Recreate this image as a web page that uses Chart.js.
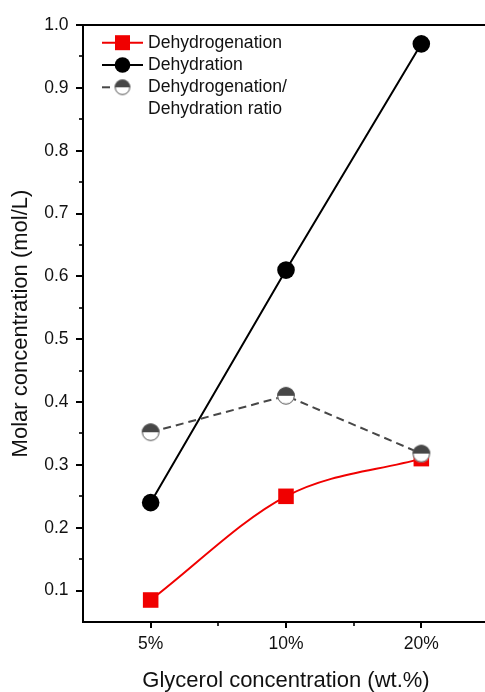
<!DOCTYPE html>
<html>
<head>
<meta charset="utf-8">
<title>Molar concentration vs glycerol concentration</title>
<script src="https://cdn.jsdelivr.net/npm/chart.js@4.4.1/dist/chart.umd.min.js"></script>
<style>
  html, body { margin: 0; padding: 0; background: #ffffff; }
  #wrap { width: 485px; height: 692px; overflow: hidden; position: relative; }
  #box { position: absolute; left: 0; top: 0; width: 500px; height: 700px; }
</style>
</head>
<body>
<div id="wrap"><div id="box"><canvas id="chart" width="500" height="700"></canvas></div></div>
<script>
// Categories and measured series
const categories = ['5%', '10%', '20%'];
const dehydrogenation = [0.085, 0.25, 0.31];
const dehydration = [0.24, 0.61, 0.97];
const ratio = [0.352, 0.41, 0.318];

// Axis range and labelled ticks
const yMin = 0.05;
const yMax = 1.0;
const yTickValues = [0.1, 0.2, 0.3, 0.4, 0.5, 0.6, 0.7, 0.8, 0.9, 1.0];

const FONT = "'Liberation Sans', Arial, Helvetica, sans-serif";
const RED = '#f00000';
const BLACK = '#000000';
const GREY = '#474747';

// Circle with the upper half filled and the lower half white
function halfMarker(r) {
  const size = Math.ceil(2 * r + 4);
  const c = document.createElement('canvas');
  c.width = size; c.height = size;
  const g = c.getContext('2d');
  const m = size / 2;
  g.beginPath(); g.arc(m, m, r, 0, Math.PI * 2); g.fillStyle = '#ffffff'; g.fill();
  g.beginPath(); g.arc(m, m, r, Math.PI, Math.PI * 2); g.closePath(); g.fillStyle = GREY; g.fill();
  g.beginPath(); g.arc(m, m, r - 0.5, 0, Math.PI * 2); g.strokeStyle = '#505050'; g.lineWidth = 1; g.stroke();
  return c;
}
const ratioMarker = halfMarker(8.8);
const ratioLegendMarker = halfMarker(7.8);

// Frame, outward ticks (major + minor) drawn from the scales
const framePlugin = {
  id: 'frame',
  beforeDatasetsDraw(chart) {
    const { ctx, chartArea: a, scales: { x, y } } = chart;
    ctx.save();
    ctx.strokeStyle = '#000';
    ctx.lineWidth = 2;
    ctx.beginPath();
    ctx.moveTo(a.left, a.top); ctx.lineTo(a.right + 5, a.top);
    ctx.moveTo(a.left, a.top - 1); ctx.lineTo(a.left, a.bottom + 1);
    ctx.moveTo(a.left - 1, a.bottom); ctx.lineTo(a.right + 5, a.bottom);
    ctx.stroke();

    // y ticks
    for (let i = 0; i < yTickValues.length; i++) {
      const v = yTickValues[i];
      const py = Math.round(y.getPixelForValue(v));
      ctx.lineWidth = 2;
      ctx.beginPath(); ctx.moveTo(a.left - 7, py); ctx.lineTo(a.left, py); ctx.stroke();
      if (i > 0) {
        const pm = Math.round(y.getPixelForValue((v + yTickValues[i - 1]) / 2));
        ctx.lineWidth = 1.6;
        ctx.beginPath(); ctx.moveTo(a.left - 4, pm); ctx.lineTo(a.left, pm); ctx.stroke();
      }
    }
    // x ticks
    for (let i = 0; i < categories.length; i++) {
      const px = Math.round(x.getPixelForValue(i));
      ctx.lineWidth = 2;
      ctx.beginPath(); ctx.moveTo(px, a.bottom); ctx.lineTo(px, a.bottom + 6); ctx.stroke();
      if (i < categories.length - 1) {
        const pm = Math.round((x.getPixelForValue(i) + x.getPixelForValue(i + 1)) / 2);
        ctx.lineWidth = 1.6;
        ctx.beginPath(); ctx.moveTo(pm, a.bottom); ctx.lineTo(pm, a.bottom + 4); ctx.stroke();
      }
    }
    ctx.restore();
  }
};

// Legend in the upper-left corner: line sample with marker, then label
const legendPlugin = {
  id: 'insetLegend',
  afterDraw(chart) {
    const { ctx } = chart;
    const ds = chart.data.datasets;
    const rows = [
      { d: ds[0], y: 42.7, lx0: 102, lx1: 143 },
      { d: ds[1], y: 65, lx0: 102, lx1: 143 },
      { d: ds[2], y: 87.3, lx0: 102, lx1: 110 }
    ];
    const mx = 122.5;
    ctx.save();
    rows.forEach((r, k) => {
      ctx.strokeStyle = r.d.borderColor;
      ctx.lineWidth = 2;
      ctx.setLineDash([]);
      ctx.beginPath(); ctx.moveTo(r.lx0, r.y); ctx.lineTo(r.lx1, r.y); ctx.stroke();
      if (k === 0) {
        ctx.fillStyle = r.d.pointBackgroundColor;
        ctx.fillRect(mx - 7.5, r.y - 7.5, 15, 15);
      } else if (k === 1) {
        ctx.fillStyle = r.d.pointBackgroundColor;
        ctx.beginPath(); ctx.arc(mx, r.y, 7.8, 0, Math.PI * 2); ctx.fill();
      } else {
        ctx.drawImage(ratioLegendMarker, mx - ratioLegendMarker.width / 2, r.y - ratioLegendMarker.height / 2);
      }
      ctx.fillStyle = '#111';
      ctx.font = '17.6px ' + FONT;
      ctx.textBaseline = 'middle';
      ctx.textAlign = 'left';
      const lines = r.d.label.split('\n');
      lines.forEach((t, j) => ctx.fillText(t, 148, r.y + j * 21.5));
    });
    ctx.restore();
  }
};

Chart.defaults.font.family = FONT;
Chart.defaults.color = '#111';

new Chart(document.getElementById('chart'), {
  type: 'line',
  data: {
    labels: categories,
    datasets: [
      {
        label: 'Dehydrogenation',
        data: dehydrogenation,
        borderColor: RED,
        borderWidth: 2,
        cubicInterpolationMode: 'monotone',
        pointStyle: 'rect',
        pointRadius: 11,
        pointBorderWidth: 0,
        pointBackgroundColor: RED,
        pointBorderColor: RED,
        order: 3
      },
      {
        label: 'Dehydration',
        data: dehydration,
        borderColor: BLACK,
        borderWidth: 2,
        tension: 0,
        pointStyle: 'circle',
        pointRadius: 8.8,
        pointBorderWidth: 0,
        pointBackgroundColor: BLACK,
        pointBorderColor: BLACK,
        order: 2
      },
      {
        label: 'Dehydrogenation/\nDehydration ratio',
        data: ratio,
        borderColor: GREY,
        borderWidth: 2,
        borderDash: [8, 5],
        tension: 0,
        pointStyle: ratioMarker,
        pointRadius: 8.8,
        pointBorderWidth: 0,
        order: 1
      }
    ]
  },
  options: {
    responsive: false,
    animation: false,
    devicePixelRatio: 1,
    events: [],
    layout: { padding: { top: 21, right: 11, left: 0, bottom: 0 } },
    plugins: {
      legend: { display: false },
      tooltip: { enabled: false },
      title: { display: false }
    },
    scales: {
      x: {
        type: 'category',
        offset: true,
        grid: { display: false, drawTicks: false },
        border: { display: false },
        ticks: { padding: 11.2, font: { size: 17.5 }, color: '#111', maxRotation: 0 },
        title: {
          display: true,
          text: 'Glycerol concentration (wt.%)',
          font: { size: 22 },
          color: '#111',
          padding: { top: 0, bottom: 5.8 }
        },
        afterFit(s) { s.height = 78; }
      },
      y: {
        type: 'linear',
        min: yMin,
        max: yMax,
        afterBuildTicks(s) { s.ticks = yTickValues.map(v => ({ value: v })); },
        grid: { display: false, drawTicks: false },
        border: { display: false },
        ticks: {
          padding: 14.5,
          font: { size: 17.5 },
          color: '#111',
          callback: v => Number(v).toFixed(1)
        },
        title: {
          display: true,
          text: 'Molar concentration (mol/L)',
          font: { size: 22 },
          color: '#111',
          padding: { top: 8, bottom: 0 }
        },
        afterFit(s) { s.width = 83; }
      }
    }
  },
  plugins: [framePlugin, legendPlugin]
});
</script>
</body>
</html>
